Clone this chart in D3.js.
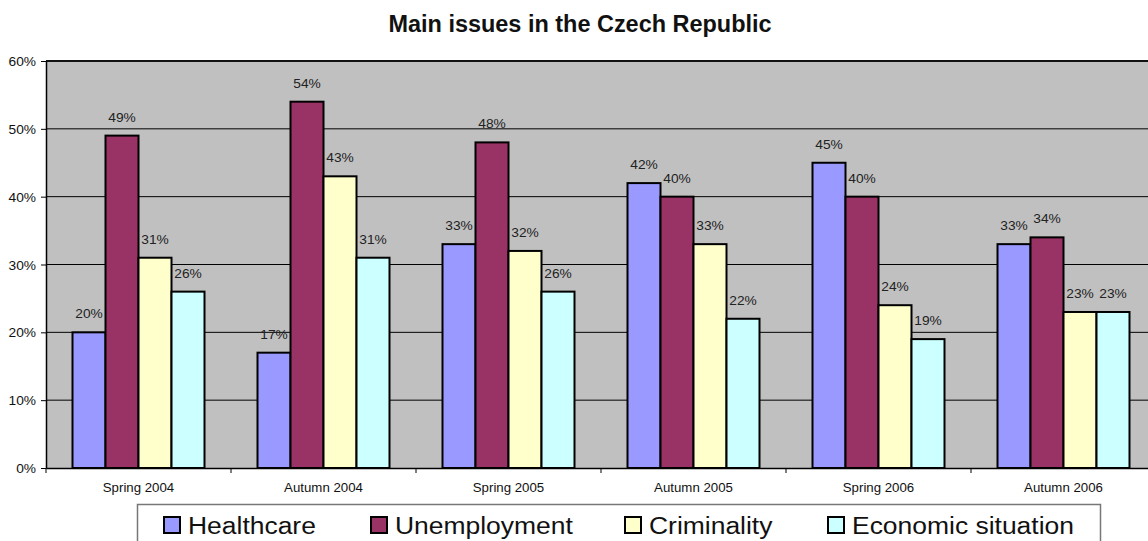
<!DOCTYPE html>
<html>
<head>
<meta charset="utf-8">
<script src="https://cdn.jsdelivr.net/npm/d3@7/dist/d3.min.js"></script>
<style>
  body { margin: 0; background: #fff; }
  text { font-family: Arial, "Liberation Sans", sans-serif; }
</style>
</head>
<body>
<div id="chart"></div>
<script>
// values (percent)
const periods = ["Spring 2004", "Autumn 2004", "Spring 2005", "Autumn 2005", "Spring 2006", "Autumn 2006"];
const seriesNames = ["Healthcare", "Unemployment", "Criminality", "Economic situation"];
const healthcare = [20, 17, 33, 42, 45, 33];
const unemployment = [49, 54, 48, 40, 40, 34];
const criminality = [31, 43, 32, 33, 24, 23];
const economic = [26, 31, 26, 22, 19, 23];
const yTicks = [0, 10, 20, 30, 40, 50, 60];
const colors = ["#9999FF", "#993366", "#FFFFCC", "#CCFFFF"];

const allSeries = [healthcare, unemployment, criminality, economic];

const width = 1148, height = 541;
const margin = { top: 61, right: -8, bottom: 73, left: 46 };
const innerW = width - margin.left - margin.right;
const innerH = height - margin.top - margin.bottom;

// the original picture is a bit stretched sideways
const stretch = 1.1;

const svg = d3.select("#chart").append("svg")
  .attr("width", width)
  .attr("height", height);

svg.append("text")
  .attr("transform", "translate(580,32) scale(1.02,1)")
  .attr("text-anchor", "middle")
  .style("font-size", "23px")
  .style("font-weight", "bold")
  .attr("fill", "#111")
  .text("Main issues in the Czech Republic");

const g = svg.append("g").attr("transform", `translate(${margin.left},${margin.top})`);

const x0 = d3.scaleBand().domain(periods).range([0, innerW]).paddingInner(0).paddingOuter(0);
const x1 = d3.scaleBand().domain(seriesNames)
  .range([26.5, x0.bandwidth() - 26.5]);
const y = d3.scaleLinear().domain([0, 60]).range([innerH, 0]);

// plot background
g.append("rect")
  .attr("width", innerW).attr("height", innerH)
  .attr("fill", "#C0C0C0");

// gridlines
g.selectAll(".grid").data(yTicks.slice(1)).join("line")
  .attr("x1", 0).attr("x2", innerW)
  .attr("y1", d => y(d)).attr("y2", d => y(d))
  .attr("stroke", "#000").attr("stroke-width", 1);

g.append("line")
  .attr("x1", 0).attr("x2", innerW).attr("y1", 0).attr("y2", 0)
  .attr("stroke", "#111").attr("stroke-width", 2);

// bars
const groups = g.selectAll(".grp").data(periods).join("g")
  .attr("transform", d => `translate(${x0(d)},0)`);

groups.each(function (p, i) {
  const gg = d3.select(this);
  seriesNames.forEach((s, k) => {
    const v = allSeries[k][i];
    gg.append("rect")
      .attr("x", x1(s))
      .attr("y", y(v))
      .attr("width", x1.bandwidth())
      .attr("height", y(0) - y(v))
      .attr("fill", colors[k])
      .attr("stroke", "#000")
      .attr("stroke-width", 2);
    gg.append("text")
      .attr("transform", `translate(${x1(s) + x1.bandwidth() / 2},${y(v) - 14}) scale(${stretch},1)`)
      .attr("text-anchor", "middle")
      .style("font-size", "12.5px")
      .attr("fill", "#222")
      .text(v + "%");
  });
});

// y axis
const yAxis = g.append("g")
  .call(d3.axisLeft(y).tickValues(yTicks).tickFormat(d => d + "%").tickSize(5).tickSizeOuter(0));
yAxis.select(".domain").attr("stroke", "#000").attr("stroke-width", 1.5);
yAxis.selectAll(".tick line").attr("stroke", "#000");
yAxis.selectAll("text")
  .attr("x", null).attr("dy", null)
  .attr("transform", `translate(-10,4.5) scale(${stretch},1)`)
  .style("font-size", "12.5px").attr("fill", "#111");

// x axis
const xAxis = g.append("g").attr("transform", `translate(0,${innerH})`)
  .call(d3.axisBottom(x0).tickSize(0).tickSizeOuter(0));
xAxis.select(".domain").attr("stroke", "#000").attr("stroke-width", 1.5);
xAxis.selectAll("text")
  .attr("y", null).attr("dy", null)
  .attr("transform", `translate(0,24) scale(1.06,1)`)
  .style("font-size", "12.5px").attr("fill", "#111");
// category separators
g.selectAll(".xtick").data(periods).join("line")
  .attr("x1", d => x0(d)).attr("x2", d => x0(d))
  .attr("y1", innerH).attr("y2", innerH + 5)
  .attr("stroke", "#000");

// legend
const legend = svg.append("g");
legend.append("rect")
  .attr("x", 137.5).attr("y", 504.5).attr("width", 963).attr("height", 50)
  .attr("fill", "#fff").attr("stroke", "#777").attr("stroke-width", 1.5);
const legendX = [164, 371, 625, 828];
seriesNames.forEach((s, k) => {
  legend.append("rect")
    .attr("x", legendX[k]).attr("y", 517)
    .attr("width", 16).attr("height", 16)
    .attr("fill", colors[k]).attr("stroke", "#000").attr("stroke-width", 2);
  legend.append("text")
    .attr("transform", `translate(${legendX[k] + 24},534) scale(1.08,1)`)
    .style("font-size", "24.5px")
    .attr("fill", "#111")
    .text(s);
});
</script>
</body>
</html>
